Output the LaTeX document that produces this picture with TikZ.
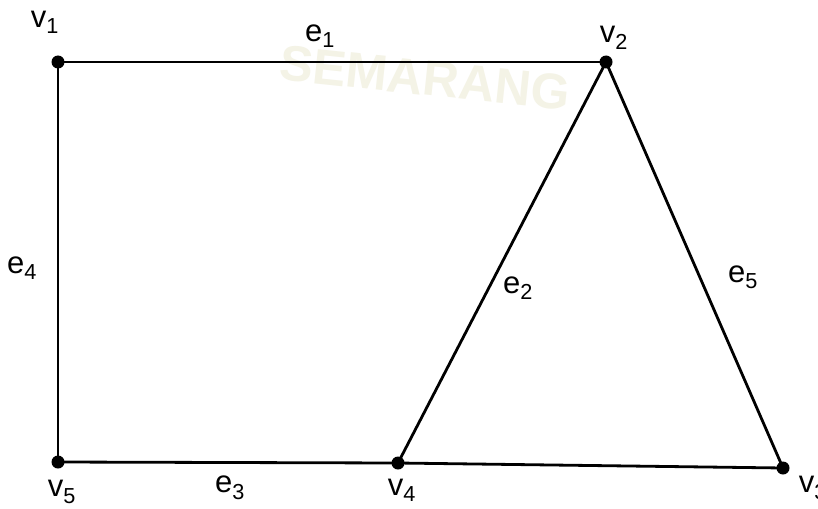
\documentclass[tikz,border=0pt]{standalone}
\usepackage{fontspec}
\setmainfont{Liberation Sans}
\begin{document}
\begin{tikzpicture}[x=1pt,y=-1pt,
  vtx/.style={circle,fill=black,inner sep=0pt,minimum size=13pt},
  edge/.style={line width=2.8pt,black},
  lbl/.style={font=\fontsize{31}{34}\selectfont,inner sep=0pt}]
\useasboundingbox (0,0) rectangle (818,508);
\fill[white] (0,0) rectangle (818,508);
% faint watermark
\node[text=yellow!6!white!95!black,font=\fontsize{50}{54}\selectfont\bfseries,rotate=-6] (wm) at (425,78) {SEMARANG};
% vertices
\node[vtx] (v1) at (58,62) {};
\node[vtx] (v2) at (606,62) {};
\node[vtx] (v3) at (783,468) {};
\node[vtx] (v4) at (398,463) {};
\node[vtx] (v5) at (58,462) {};
% edges
\draw[edge] (v1.center) -- (v2.center);
\draw[edge] (v2.center) -- (v4.center);
\draw[edge] (v4.center) -- (v5.center);
\draw[edge] (v5.center) -- (v1.center);
\draw[edge] (v2.center) -- (v3.center);
\draw[edge] (v4.center) -- (v3.center);
% labels
\node[lbl] (l1) at (45,22) {v\textsubscript{1}};
\node[lbl] (l2) at (614,38) {v\textsubscript{2}};
\node[lbl] (l3) at (813,488) {v\textsubscript{3}};
\node[lbl] (l4) at (402,490) {v\textsubscript{4}};
\node[lbl] (l5) at (62,492) {v\textsubscript{5}};
\node[lbl] (e1) at (320,36) {e\textsubscript{1}};
\node[lbl] (e2) at (518,288) {e\textsubscript{2}};
\node[lbl] (e3) at (230,488) {e\textsubscript{3}};
\node[lbl] (e4) at (22,268) {e\textsubscript{4}};
\node[lbl] (e5) at (743,277) {e\textsubscript{5}};
\end{tikzpicture}
\end{document}
